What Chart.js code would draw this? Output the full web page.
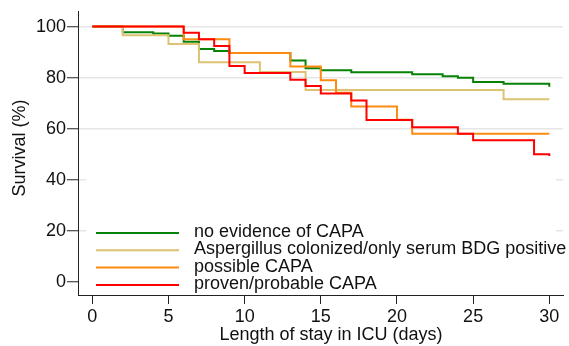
<!DOCTYPE html>
<html>
<head>
<meta charset="utf-8">
<script src="https://cdn.jsdelivr.net/npm/chart.js@4"></script>
<style>
  html, body { margin: 0; padding: 0; background: #fff; }
  #wrap { width: 569px; height: 346px; }
</style>
</head>
<body>
<div id="wrap"><canvas id="chart" width="569" height="346"></canvas></div>
<script>
// Kaplan-Meier steps, value holds from that day on
const noCapaDays = [0, 2, 4, 5, 6, 7, 8, 9, 13, 14, 15, 17, 21, 23, 24, 25, 27, 30];
const noCapaSurv = [100, 97.8, 97.3, 96.4, 94.1, 91.2, 90.4, 89.6, 86.7, 83.7, 82.9, 82.1, 81.3, 80.5, 79.9, 78.3, 77.6, 76.4];

const colonizedDays = [0, 2, 5, 7, 11, 14, 27, 30];
const colonizedSurv = [100, 96.6, 93.2, 86.0, 82.2, 75.1, 71.5, 71.5];

const possibleDays = [0, 6, 9, 13, 15, 16, 17, 20, 21, 30];
const possibleSurv = [100, 95.0, 89.6, 84.4, 79.0, 74.1, 68.7, 63.5, 58.0, 58.0];

const provenDays = [0, 6, 7, 8, 9, 10, 13, 14, 15, 17, 18, 21, 24, 25, 29, 30];
const provenSurv = [100, 97.6, 95.0, 92.4, 84.6, 81.8, 79.2, 76.7, 73.8, 71.0, 63.4, 60.5, 58.0, 55.4, 50.0, 49.3];

const labels = [
  'no evidence of CAPA',
  'Aspergillus colonized/only serum BDG positive',
  'possible CAPA',
  'proven/probable CAPA',
];
const xTicks = [0, 5, 10, 15, 20, 25, 30];
const yTicks = [0, 20, 40, 60, 80, 100];

const FONT = '"Liberation Sans", Arial, sans-serif';
const INK = '#111';

const pts = (days, surv) => days.map((d, i) => ({ x: d, y: surv[i] }));

function series(label, days, surv, color, order) {
  return {
    label,
    data: pts(days, surv),
    borderColor: color,
    borderWidth: 2,
    pointRadius: 0,
    stepped: true,
    fill: false,
    order,
  };
}

// white legend box sitting inside the plot, plus the axis titles
const boxLegend = {
  id: 'boxLegend',
  afterDatasetsDraw(chart) {
    const { ctx, chartArea: a } = chart;
    ctx.save();
    ctx.fillStyle = '#fff';
    ctx.fillRect(a.left + 8, a.bottom - 130, a.right - a.left - 15, 128);
    ctx.font = '18px ' + FONT;
    ctx.textBaseline = 'alphabetic';
    ctx.textAlign = 'left';
    chart.data.datasets.forEach((ds, i) => {
      const y = a.bottom - 62 + i * 17.3;
      ctx.strokeStyle = ds.borderColor;
      ctx.lineWidth = 2;
      ctx.beginPath();
      ctx.moveTo(a.left + 18, y);
      ctx.lineTo(a.left + 101, y);
      ctx.stroke();
      ctx.fillStyle = INK;
      ctx.fillText(ds.label, a.left + 116, y + 4);
    });

    ctx.textAlign = 'center';
    ctx.textBaseline = 'middle';
    ctx.fillText('Length of stay in ICU (days)', (a.left + a.right) / 2 + 10.5, 335);
    ctx.translate(20, 148);
    ctx.rotate(-Math.PI / 2);
    ctx.fillText('Survival (%)', 0, 0);
    ctx.restore();
  }
};

new Chart(document.getElementById('chart'), {
  type: 'line',
  data: {
    datasets: [
      series(labels[0], noCapaDays, noCapaSurv, '#078207', 4),
      series(labels[1], colonizedDays, colonizedSurv, '#dcc272', 3),
      series(labels[2], possibleDays, possibleSurv, '#ff8a10', 2),
      series(labels[3], provenDays, provenSurv, '#ff0000', 1),
    ]
  },
  options: {
    responsive: false,
    animation: false,
    events: [],
    layout: { padding: { left: 0, right: 6, top: 8, bottom: 0 } },
    plugins: { legend: { display: false }, tooltip: { enabled: false } },
    scales: {
      x: {
        type: 'linear',
        min: -0.94,
        max: 30.9,
        afterBuildTicks: (s) => { s.ticks = xTicks.map(v => ({ value: v })); },
        afterFit: (s) => { s.height = 51; },
        ticks: { color: INK, font: { family: FONT, size: 18 }, padding: 2, maxRotation: 0 },
        grid: { drawOnChartArea: false, tickLength: 9, tickColor: '#222', tickWidth: 1 },
        border: { color: '#222', width: 1 },
      },
      y: {
        type: 'linear',
        min: -5.22,
        max: 105.8,
        afterBuildTicks: (s) => { s.ticks = yTicks.map(v => ({ value: v })); },
        afterFit: (s) => { s.width = 78; },
        ticks: { color: INK, font: { family: FONT, size: 18 }, padding: 1 },
        grid: {
          color: (c) => (c.tick && c.tick.value === 0 ? 'rgba(0,0,0,0)' : '#e6e6e6'),
          lineWidth: 1.5,
          tickLength: 11,
          tickColor: '#222',
          tickWidth: 1,
        },
        border: { color: '#222', width: 1 },
      }
    }
  },
  plugins: [boxLegend]
});
</script>
</body>
</html>
